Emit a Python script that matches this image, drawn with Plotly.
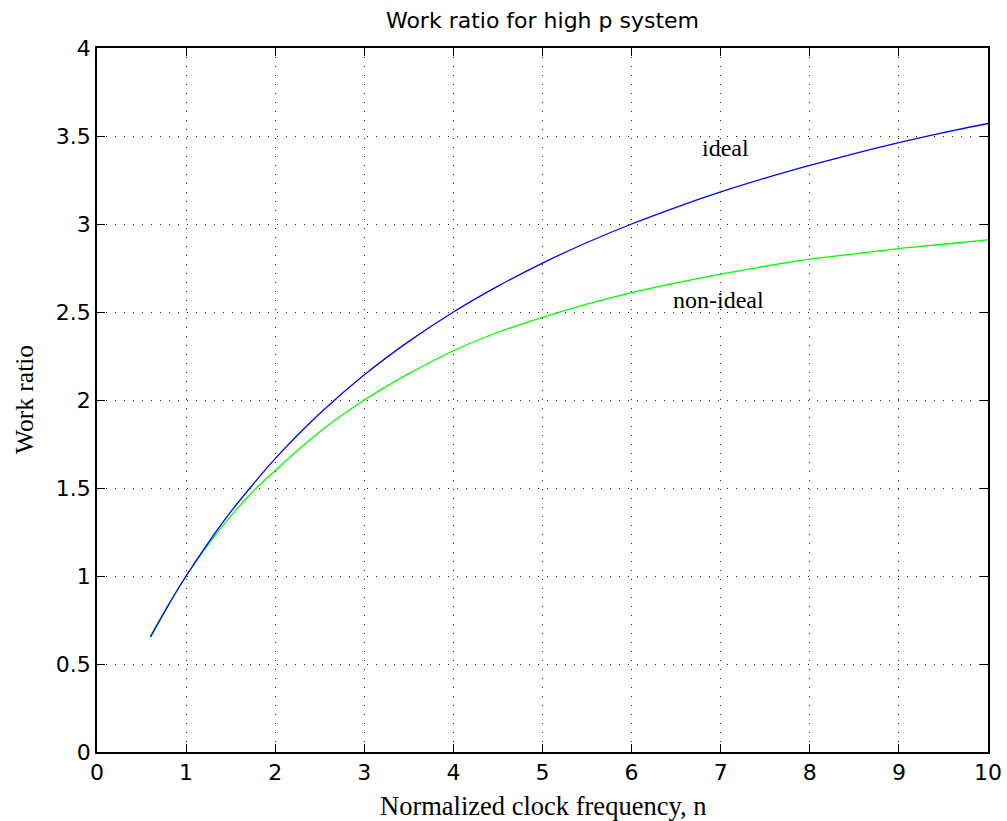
import plotly.graph_objects as go

# Data
n_values = [0.6, 0.8, 1.0, 1.25, 1.5, 1.75, 2.0, 2.5, 3.0, 3.5, 4.0, 4.5, 5.0,
            5.5, 6.0, 6.5, 7.0, 7.5, 8.0, 8.5, 9.0, 9.5, 10.0]
ideal = [0.652, 0.833, 1.0, 1.19, 1.364, 1.52, 1.667, 1.923, 2.143, 2.333, 2.5,
         2.647, 2.778, 2.895, 3.0, 3.095, 3.182, 3.261, 3.333, 3.4, 3.462, 3.519, 3.571]
non_ideal = [0.66, 0.835, 1.0, 1.18, 1.34, 1.48, 1.60, 1.82, 2.0, 2.15, 2.28,
             2.385, 2.47, 2.545, 2.61, 2.665, 2.715, 2.76, 2.80, 2.83, 2.86, 2.885, 2.91]
x_ticks = [0, 1, 2, 3, 4, 5, 6, 7, 8, 9, 10]
y_ticks = [0, 0.5, 1, 1.5, 2, 2.5, 3, 3.5, 4]
y_tick_labels = ["0", "0.5", "1", "1.5", "2", "2.5", "3", "3.5", "4"]

fig = go.Figure()
fig.add_trace(go.Scatter(x=n_values, y=non_ideal, mode="lines", name="non-ideal",
                         line=dict(color="#00ff00", width=1.3, shape="spline")))
fig.add_trace(go.Scatter(x=n_values, y=ideal, mode="lines", name="ideal",
                         line=dict(color="#0000ff", width=1.3, shape="spline")))

fig.add_annotation(x=7.05, y=3.43, text="ideal", showarrow=False,
                   font=dict(family="Liberation Serif", size=24, color="black"))
fig.add_annotation(x=6.97, y=2.57, text="non-ideal", showarrow=False,
                   font=dict(family="Liberation Serif", size=24, color="black"))

# Axis titles placed as paper annotations
fig.add_annotation(xref="paper", yref="paper", x=0.5, y=-0.0767, yanchor="middle",
                   text="Normalized clock frequency, n", showarrow=False,
                   font=dict(family="Liberation Serif", size=26.5, color="black"))
fig.add_annotation(xref="paper", yref="paper", x=-0.0819, y=0.5, xanchor="center",
                   yanchor="middle", textangle=-90,
                   text="Work ratio", showarrow=False,
                   font=dict(family="Liberation Serif", size=25.5, color="black"))

axis_common = dict(showline=True, linecolor="black", linewidth=1.5, mirror="ticks",
                   ticks="inside", ticklen=8, tickcolor="black", tickwidth=1,
                   showgrid=True, gridcolor="#222222", griddash="1px,8px", gridwidth=1,
                   zeroline=False, tickfont=dict(family="DejaVu Sans", size=22, color="black"))

fig.update_xaxes(range=[0, 10], tickvals=x_ticks, **axis_common)
fig.update_yaxes(range=[0, 4], tickvals=y_ticks, ticktext=y_tick_labels, **axis_common)

fig.update_layout(
    width=1007, height=821,
    margin=dict(l=97, r=19, t=48, b=69, autoexpand=False),
    paper_bgcolor="white", plot_bgcolor="white",
    showlegend=False,
    title=dict(text="Work ratio for high p system", x=0.5, xref="paper",
               yref="container", y=0.9756, yanchor="middle",
               font=dict(family="DejaVu Sans", size=22, color="black")),
)

fig.write_html("out.html", config={"displayModeBar": False},
               post_script="document.body.style.margin='0';document.body.style.overflow='hidden';")
